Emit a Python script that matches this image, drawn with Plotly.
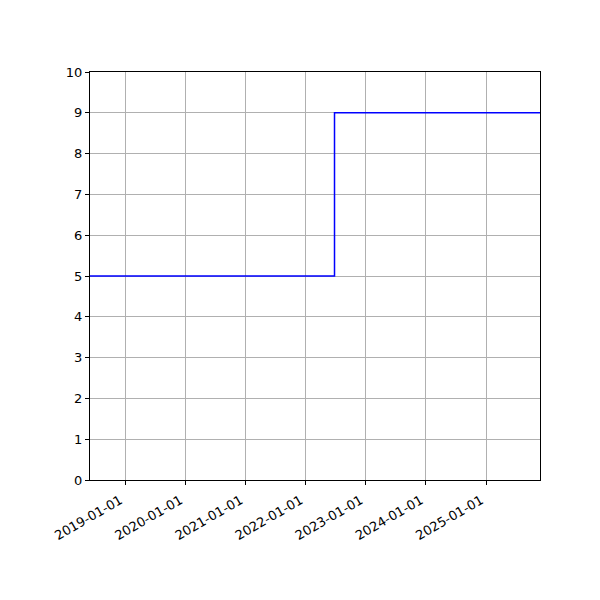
import plotly.graph_objects as go

# step series: value holds until the next date
dates = ["2018-06-01", "2022-06-25", "2025-11-24"]
values = [5, 9, 9]

tick_dates = ["2019-01-01", "2020-01-01", "2021-01-01", "2022-01-01",
              "2023-01-01", "2024-01-01", "2025-01-01"]

fig = go.Figure()
fig.add_trace(go.Scatter(x=dates, y=values, mode="lines", line_shape="hv",
                         line=dict(color="blue", width=1.5)))

fig.update_xaxes(type="date", range=[dates[0], dates[-1]],
                 tickvals=tick_dates, ticktext=tick_dates, tickangle=-30,
                 ticklabelshift=-5, ticklabelstandoff=3,
                 showgrid=True, gridcolor="#b0b0b0", gridwidth=1,
                 showline=True, linecolor="black", mirror=True,
                 ticks="outside", ticklen=4, tickcolor="black")
fig.update_yaxes(range=[0, 10], dtick=1,
                 showgrid=True, gridcolor="#b0b0b0", gridwidth=1,
                 showline=True, linecolor="black", mirror=True,
                 ticks="outside", ticklen=4, tickcolor="black", zeroline=False)

# the page adds ~8px body margin, so pull the plot up/left to compensate
fig.update_layout(width=600, height=600, showlegend=False,
                  plot_bgcolor="white", paper_bgcolor="white",
                  font=dict(family="DejaVu Sans", size=13, color="black"),
                  margin=dict(l=82, r=68, t=64, b=128))

fig.write_html("out.html")
